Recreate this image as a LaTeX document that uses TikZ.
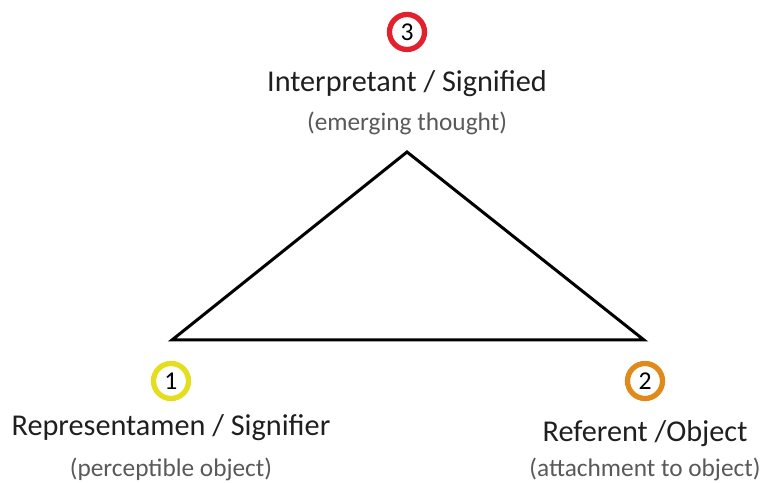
\documentclass[tikz,border=0pt]{standalone}
\usepackage{fontspec}
\setmainfont{Carlito}
\definecolor{signred}{HTML}{E3202C}
\definecolor{signyellow}{HTML}{E4DE1E}
\definecolor{signorange}{HTML}{DF8A1B}
\definecolor{labelgray}{HTML}{595959}
\begin{document}
\begin{tikzpicture}[x=0.01cm,y=-0.01cm,
  corner/.style={draw=#1, line width=1.5pt, circle, minimum size=0.35cm, inner sep=0pt, font=\fontsize{7.3}{8}\selectfont},
  title/.style={anchor=base, font=\fontsize{8.6}{10}\selectfont, text=black!88},
  note/.style={anchor=base, font=\fontsize{7.2}{9}\selectfont, text=labelgray}]
\useasboundingbox (0,0) rectangle (761,483);

% the sign triangle
\coordinate (rep) at (172,340);
\coordinate (ref) at (644,340);
\coordinate (int) at (407,152);
\draw[line width=0.85pt] (rep) -- (int) -- (ref) -- cycle;

% interpretant
\node[corner=signred] (n3) at (407,32) {3};
\node[title] (int title) at (407,92) {Interpretant / Signified};
\node[note] (int note) at (407,131) {(emerging thought)};

% representamen
\node[corner=signyellow] (n1) at (171,381) {1};
\node[title] (rep title) at (171,436) {Representamen / Signifier};
\node[note] (rep note) at (171,477) {(perceptible object)};

% referent
\node[corner=signorange] (n2) at (645,381) {2};
\node[title] (ref title) at (645,442) {Referent /Object};
\node[note] (ref note) at (645,477) {(attachment to object)};
\end{tikzpicture}
\end{document}
